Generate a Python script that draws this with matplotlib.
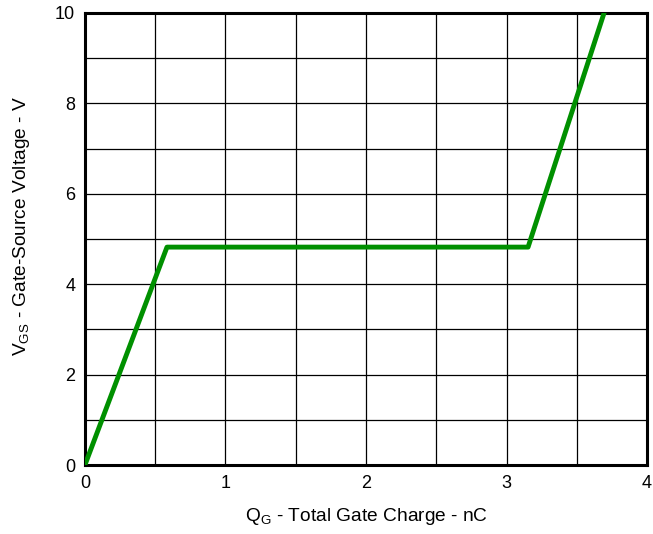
import matplotlib
matplotlib.use("Agg")
import matplotlib.pyplot as plt
import numpy as np

# gate charge curve (Qg in nC, Vgs in V)
qg = [0.0, 0.584, 3.153, 3.694]
vgs = [0.0, 4.82, 4.82, 10.0]

x_ticks = [0, 1, 2, 3, 4]
y_ticks = [0, 2, 4, 6, 8, 10]

plt.rcParams['font.family'] = ['Liberation Sans', 'DejaVu Sans']
plt.rcParams['mathtext.default'] = 'regular'

fig = plt.figure(figsize=(6.53, 5.34), dpi=100)
ax = fig.add_axes([0.130, 0.129, 0.861, 0.847])

ax.plot(qg, vgs, color='#009000', linewidth=3.5, solid_capstyle='round', zorder=3)

ax.set_xlim(0, 4)
ax.set_ylim(0, 10)
ax.set_xticks(x_ticks)
ax.set_yticks(y_ticks)
ax.set_xticks(np.arange(0, 4.01, 0.5), minor=True)
ax.set_yticks(np.arange(0, 10.01, 1), minor=True)
ax.grid(which='both', color='black', linewidth=0.9)
ax.tick_params(which='both', length=0, labelsize=13, pad=7)

for s in ax.spines.values():
    s.set_linewidth(2.2)

ax.set_xlabel(r'Q$_{G}$ - Total Gate Charge - nC', fontsize=13.8, va='top')
ax.xaxis.set_label_coords(0.5, -0.091)
ax.set_ylabel(r'V$_{GS}$ - Gate-Source Voltage - V', fontsize=13.8)
ax.yaxis.set_label_coords(-0.094, 0.528)

fig.savefig('out.png', dpi=100)
